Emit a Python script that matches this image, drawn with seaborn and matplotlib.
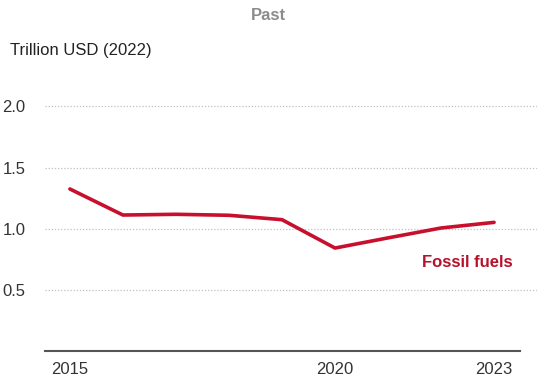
import matplotlib
matplotlib.use("Agg")
import matplotlib.pyplot as plt
import seaborn as sns
import pandas as pd

years = [2015, 2016, 2017, 2018, 2019, 2020, 2021, 2022, 2023]
fossil_fuels = [1.325, 1.112, 1.118, 1.11, 1.074, 0.842, 0.925, 1.006, 1.052]
y_ticks = [0.5, 1.0, 1.5, 2.0]
x_ticks = [2015, 2020, 2023]

sns.set_theme(style="white")
plt.rcParams['font.family'] = ['Liberation Sans', 'DejaVu Sans']

df = pd.DataFrame({"year": years, "value": fossil_fuels})

fig = plt.figure(figsize=(5.37, 3.80), dpi=100)
ax = fig.add_axes([45/537, (380-351)/380, (537-45)/537, (351-82)/380])

for yv in y_ticks:
    ax.axhline(yv, color="#c0c0c0", lw=0.9, ls=(0, (1, 1.5)), zorder=0)

sns.lineplot(data=df, x="year", y="value", ax=ax, color="#c8102e", lw=2.6)

ax.set_xlim(2014.53, 2023.81)
ax.set_ylim(0, 2.2)
ax.set_xticks(x_ticks)
ax.set_xticklabels([str(x) for x in x_ticks], fontsize=12, color="#333333")
ax.set_yticks(y_ticks)
ax.set_yticklabels([f"{v:.1f}" for v in y_ticks], fontsize=12, color="#333333")
ax.tick_params(axis="both", length=0, pad=8)
ax.tick_params(axis="y", pad=14)
ax.set_xlabel("")
ax.set_ylabel("")
for s in ["top", "right", "left"]:
    ax.spines[s].set_visible(False)
ax.spines["bottom"].set_color("#555555")
ax.spines["bottom"].set_linewidth(1.5)
ax.spines["bottom"].set_bounds(2014.53, 2023.49)

ax.text(2022.5, 0.72, "Fossil fuels", color="#b5122b", fontsize=12,
        fontweight="bold", ha="center", va="center")

fig.text(268/537, 1 - 15/380, "Past", color="#8c8c8c", fontsize=12,
         fontweight="bold", ha="center", va="center")
fig.text(10/537, 1 - 50/380, "Trillion USD (2022)", color="#222222",
         fontsize=12, ha="left", va="center")

fig.savefig("out.png", dpi=100)
